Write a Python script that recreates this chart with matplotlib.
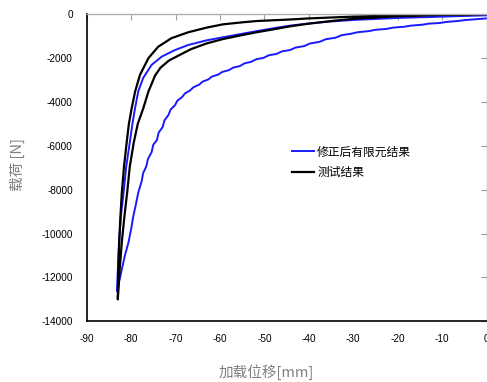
import matplotlib
matplotlib.use("Agg")
import matplotlib.pyplot as plt

plt.rcParams['font.family'] = ['Liberation Sans', 'Noto Sans CJK SC']
plt.rcParams['axes.unicode_minus'] = False

# measured curve (black): upper branch then lower branch, both start at the tip
test_upper_x = [-83.0, -82.9, -82.7, -82.4, -82.1, -81.6, -81.0, -80.5, -79.9, -79.1,
                -78.0, -76.1, -73.9, -70.9, -67.1, -63.0, -59.3, -55.0, -51.7, -44.2,
                -40.0, -30.0, -20.0, -10.0, 0.0]
test_upper_y = [-13000, -11700, -10400, -9200, -8150, -6950, -5850, -5000, -4320, -3530,
                -2770, -2010, -1490, -1100, -830, -620, -470, -380, -320, -250,
                -200, -120, -65, -25, 0]
test_lower_x = [-83.0, -82.6, -82.1, -81.5, -80.9, -80.3, -79.4, -78.5, -77.3, -76.1,
                -74.6, -73.4, -71.5, -69.4, -66.5, -63.0, -59.3, -55.0, -51.7, -48.0,
                -44.2, -40.0, -35.0, -30.0, -20.0, -10.0, 0.0]
test_lower_y = [-13000, -11700, -10400, -9200, -8150, -6950, -5850, -5000, -4320, -3530,
                -2800, -2450, -2120, -1900, -1600, -1340, -1140, -960, -830, -700,
                -560, -440, -320, -220, -100, -40, 0]

# corrected FE result (blue): smooth upper branch and wavy lower branch
fe_upper_x = [-83.2, -83.0, -82.7, -82.3, -81.7, -81.1, -80.3, -79.7, -79.1, -78.4,
              -77.3, -75.4, -73.1, -70.1, -67.1, -63.0, -59.3, -55.0, -51.7, -48.0,
              -44.2, -40.0, -35.0, -30.0, -20.0, -10.0, 0.0]
fe_upper_y = [-12620, -11700, -10400, -9200, -8150, -6950, -5850, -5000, -4270, -3530,
              -2920, -2320, -1940, -1640, -1410, -1200, -1060, -900, -780, -650,
              -530, -430, -340, -270, -180, -120, -60]
fe_lower_x = [-83.2, -82.6, -82.1, -81.4, -80.6, -80.0, -79.5, -78.9, -78.4, -77.6,
              -77.3, -76.6, -76.2, -75.4, -75.0, -74.2, -73.8, -72.9, -72.5, -71.6,
              -71.1, -70.1, -69.6, -68.5, -67.9, -66.7, -66.0, -64.7, -63.9, -62.6,
              -61.8, -60.4, -59.5, -58.0, -57.0, -55.5, -54.5, -53.0, -51.8, -50.2,
              -49.0, -47.3, -46.0, -44.2, -43.0, -41.0, -39.7, -37.6, -36.2, -34.0,
              -32.5, -30.5, -29.0, -26.5, -25.0, -22.5, -21.0, -18.5, -17.0, -14.5,
              -13.0, -10.5, -9.0, -6.5, -5.0, -2.5, 0.0]
fe_lower_y = [-12620, -12100, -11640, -11000, -10410, -9800, -9200, -8650, -8140, -7600,
              -7250, -6950, -6600, -6300, -5950, -5750, -5400, -5150, -4850, -4600,
              -4350, -4150, -3950, -3780, -3620, -3480, -3340, -3220, -3080, -2980,
              -2850, -2760, -2640, -2560, -2440, -2370, -2250, -2180, -2060, -2000,
              -1880, -1820, -1700, -1640, -1530, -1460, -1340, -1270, -1150, -1080,
              -960, -900, -830, -780, -720, -680, -620, -580, -530, -490,
              -440, -410, -360, -320, -280, -240, -200]

x_ticks = [-90, -80, -70, -60, -50, -40, -30, -20, -10, 0]
y_ticks = [0, -2000, -4000, -6000, -8000, -10000, -12000, -14000]

fig = plt.figure(figsize=(4.87, 3.82), dpi=100)
ax = fig.add_axes([86.7 / 487, 60.7 / 382, 399.8 / 487, 307.3 / 382])

blue = '#1a1aff'
ax.plot(fe_lower_x[::-1] + fe_upper_x[1:], fe_lower_y[::-1] + fe_upper_y[1:],
        color=blue, lw=1.4, label='修正后有限元结果')
ax.plot(test_upper_x[::-1] + test_lower_x[1:], test_upper_y[::-1] + test_lower_y[1:],
        color='black', lw=1.6, label='测试结果')

ax.set_xlim(-90, 0)
ax.set_ylim(-14000, 0)
ax.set_xticks(x_ticks)
ax.set_yticks(y_ticks)
ax.set_xticklabels([str(t) for t in x_ticks])
ax.set_yticklabels([str(t) for t in y_ticks])

for s in ['left', 'bottom']:
    ax.spines[s].set_color('black')
    ax.spines[s].set_linewidth(1.2)
for s in ['top', 'right']:
    ax.spines[s].set_color('#b0b0b0')
    ax.spines[s].set_linewidth(1.0)

ax.tick_params(axis='x', bottom=False, top=True, labelbottom=True, labeltop=False,
               direction='in', length=4, color='#a0a0a0', labelsize=7.2, pad=9)
ax.tick_params(axis='y', left=False, right=True, labelleft=True, labelright=False,
               direction='in', length=4, color='#a0a0a0', labelsize=7.2, pad=10)

ax.legend(loc='upper left', bbox_to_anchor=(0.513, 0.572), frameon=False,
          borderpad=0, borderaxespad=0, handlelength=1.9, handletextpad=0.25,
          labelspacing=0.62, prop={'family': 'Noto Sans CJK SC', 'size': 8.5})

fig.text(17 / 487, 1 - 165 / 382, '载荷 [N]', rotation=90, ha='center', va='center',
         color='#7f7f7f', fontsize=10.5, family=['Noto Sans CJK SC'])
fig.text(266 / 487, 1 - 372 / 382, '加载位移[mm]', ha='center', va='center',
         color='#7f7f7f', fontsize=10.5, family=['Noto Sans CJK SC'])

fig.savefig('out.png', dpi=100)
